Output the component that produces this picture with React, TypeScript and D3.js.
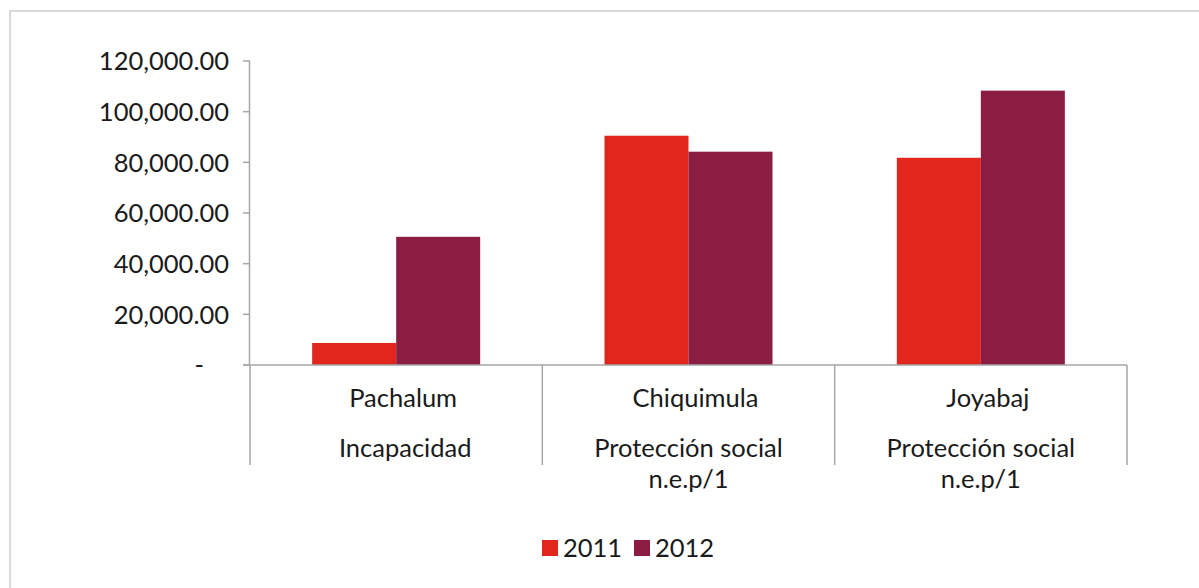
import React from "react";
import * as d3 from "d3";

const municipios = ["Pachalum", "Chiquimula", "Joyabaj"];
const funciones = [["Incapacidad"], ["Protección social", "n.e.p/1"], ["Protección social", "n.e.p/1"]];
const series = ["2011", "2012"];
const values2011 = [8700, 90500, 81800];
const values2012 = [50600, 84200, 108300];
const yTicks = [0, 20000, 40000, 60000, 80000, 100000, 120000];
const colors = ["#E1261E", "#8B1C42"];

const W = 1199;
const H = 588;
const FONT = "Lato, 'Open Sans', sans-serif";
const FS = 25.5;

export default function App() {
  const left = 250, right = 1127, top = 61, bottom = 365;
  const y = d3.scaleLinear().domain([0, 120000]).range([bottom, top]);
  const x0 = d3.scaleBand<string>().domain(municipios).range([left, right]).padding(0);
  const x1 = d3.scaleBand<string>().domain(series).range([0, x0.bandwidth()]).paddingInner(0).paddingOuter(0.74);
  const vals = [values2011, values2012];
  const fmt = (v: number) => (v === 0 ? "-" : d3.format(",.2f")(v));
  const axisColor = "#a6a6a6";
  const txt = "#1a1a1a";

  return (
    <svg width={W} height={H} style={{ position: "absolute", left: 0, top: 0, background: "#fff" }} fontFamily={FONT}>
      <rect x={10} y={11} width={1220} height={620} fill="#fff" stroke="#d9d9d9" strokeWidth={2} />
      {/* bars */}
      {municipios.map((m, i) => (
        <g key={m} transform={`translate(${x0(m)},0)`}>
          {series.map((s, j) => (
            <rect key={s} x={x1(s)} y={y(vals[j][i])} width={x1.bandwidth()} height={bottom - y(vals[j][i])} fill={colors[j]} />
          ))}
        </g>
      ))}
      {/* y axis */}
      <line x1={left - 0.5} x2={left - 0.5} y1={top} y2={bottom} stroke={axisColor} strokeWidth={1.5} />
      {yTicks.map((t) => (
        <g key={t}>
          <line x1={left - 7} x2={left} y1={y(t)} y2={y(t)} stroke={axisColor} strokeWidth={1.5} />
          <text x={t === 0 ? 204 : 229} y={y(t)} dy="0.36em" textAnchor="end" fontSize={FS} fill={txt}>
            {fmt(t)}
          </text>
        </g>
      ))}
      {/* x axis */}
      <line x1={left - 7} x2={right} y1={bottom} y2={bottom} stroke={axisColor} strokeWidth={1.5} />
      {[...municipios.map((m) => x0(m) as number), right].map((xv, i) => (
        <line key={i} x1={xv} x2={xv} y1={bottom} y2={465} stroke={axisColor} strokeWidth={1.5} />
      ))}
      {municipios.map((m, i) => {
        const cx = (x0(m) as number) + x0.bandwidth() / 2;
        return (
          <g key={m}>
            <text x={cx + 7} y={407} textAnchor="middle" fontSize={FS} fill={txt}>{m}</text>
            {funciones[i].map((f, k) => (
              <text key={k} x={cx + (funciones[i].length === 1 ? 9 : 0)} y={457 + k * 31} textAnchor="middle" fontSize={FS} fill={txt}>{f}</text>
            ))}
          </g>
        );
      })}
      {/* legend */}
      {series.map((s, j) => (
        <g key={s} transform={`translate(${542 + j * 92},540)`}>
          <rect x={0} y={0} width={16} height={16} fill={colors[j]} />
          <text x={21} y={17} fontSize={FS} fill={txt}>{s}</text>
        </g>
      ))}
    </svg>
  );
}
